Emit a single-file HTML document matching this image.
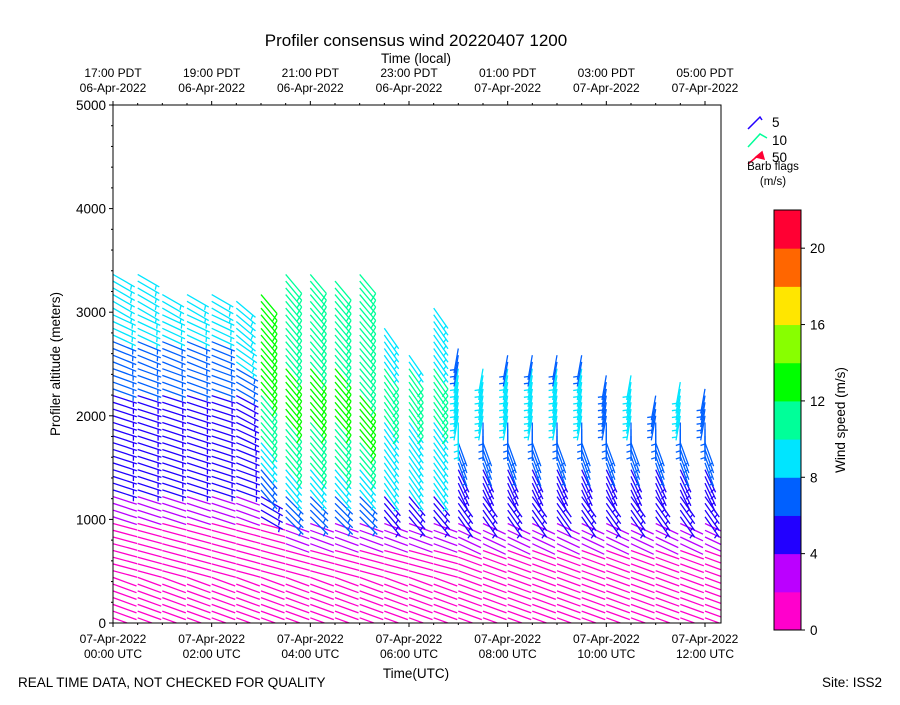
<!DOCTYPE html>
<html><head><meta charset="utf-8"><style>
body{margin:0;background:#fff;font-family:"Liberation Sans","DejaVu Sans",sans-serif}
svg text{font-family:"Liberation Sans","DejaVu Sans",sans-serif;fill:#000}
</style></head><body>
<svg id="chart" width="900" height="700" xmlns="http://www.w3.org/2000/svg">
<text x="416" y="46" font-size="17" text-anchor="middle">Profiler consensus wind 20220407 1200</text>
<text x="416" y="63" font-size="13.5" text-anchor="middle">Time (local)</text>
<text x="416" y="678" font-size="13.5" text-anchor="middle">Time(UTC)</text>
<text x="60" y="364" font-size="13.5" text-anchor="middle" transform="rotate(-90 60 364)">Profiler altitude (meters)</text>
<text x="18" y="687" font-size="13.5">REAL TIME DATA, NOT CHECKED FOR QUALITY</text>
<text x="882" y="687" font-size="13.5" text-anchor="end">Site: ISS2</text>
<g id="barbs"></g>
<g id="axes"></g>
<g id="legend"></g>
<g id="cbar"></g>
</svg>
<script>
const utcTickLabels=["00:00 UTC","02:00 UTC","04:00 UTC","06:00 UTC","08:00 UTC","10:00 UTC","12:00 UTC"];
const localTickLabels=["17:00 PDT","19:00 PDT","21:00 PDT","23:00 PDT","01:00 PDT","03:00 PDT","05:00 PDT"];
const localDates=["06-Apr-2022","06-Apr-2022","06-Apr-2022","06-Apr-2022","07-Apr-2022","07-Apr-2022","07-Apr-2022"];
const altTicks=[0,1000,2000,3000,4000,5000];
const cbarTicks=[0,4,8,12,16,20];
const cbarColors=["#ff00cc","#bb00ff","#2200ff","#0060ff","#00e5ff","#00ff99","#00ff00","#88ff00","#ffe600","#ff6600","#ff0033"];
const colHours=[0,0.5,1,1.5,2,2.5,3,3.5,4,4.5,5,5.5,6,6.5,7,7.5,8,8.5,9,9.5,10,10.5,11,11.5,12];
const colTops=[3400,3400,3200,3200,3200,3150,3200,3400,3400,3350,3400,2900,2600,3100,2650,2500,2600,2600,2600,2600,2400,2400,2250,2350,2300];
const colSpeeds=[
[1,1,1,1,3,5,5,5,5,7,7,9,9,9],[1,1,1,1,3,5,5,5,5,7,7,9,9,9],[1,1,1,1,3,5,5,5,5,7,7,8,9,9],
[1,1,1,1,3,5,5,5,5,6,7,8,9,9],[1,1,1,1,3,5,5,5,5,7,7,9,9,9],[1,1,1,1,3,5,5,5,5,7,9,9,9,9],
[1,1,1,1,5,7,9,10,11,12,13,13,13,13],[1,1,1,3,7,9,11,11,12,12,11,11,10,10],[1,1,1,3,7,9,10,11,12,12,11,10,10,10],
[1,1,1,3,7,9,11,11,12,12,11,11,10,10],[1,1,1,3,7,9,11,12,12,11,11,10,10,10],[1,1,1,3,5,9,9,9,10,10,9,9,9,9],
[1,1,1,3,5,9,9,9,10,10,9,9,9,9],[1,1,1,3,5,9,9,9,10,11,9,9,9,9],[1,1,1,3,5,5,7,8,9,8,7,5,5,5],
[1,1,1,3,5,5,7,7,8,8,7,5,5,5],[1,1,1,3,5,5,7,7,8,8,7,5,5,5],[1,1,1,3,5,5,7,7,8,8,7,5,5,5],
[1,1,1,3,4,5,7,7,8,8,7,5,5,5],[1,1,1,3,5,5,7,7,8,8,7,5,5,5],[1,1,1,3,5,5,6,7,7,7,7,5,5,5],
[1,1,1,3,5,5,6,7,8,8,7,5,5,5],[1,1,1,3,5,5,7,7,7,7,7,5,5,5],[1,1,1,3,5,5,7,7,8,8,9,3,3,3],
[1,1,1,3,5,5,6,7,7,7,9,3,3,3]];
const colDirs=[
[110,110,105,105,108,108,108,108,108,110,112,115,120,120],[110,110,105,105,108,108,108,108,108,110,112,115,120,120],[110,110,105,105,108,108,108,108,108,110,112,115,120,120],
[110,110,105,105,108,108,108,108,108,110,112,115,120,120],[110,110,105,105,108,108,108,108,108,110,112,115,120,120],[110,110,105,105,110,110,112,115,118,120,125,130,130,130],
[110,110,105,105,120,140,140,140,140,140,140,140,140,140],[110,110,105,110,135,140,140,140,140,140,140,140,140,140],[110,110,105,110,135,140,140,140,140,140,140,140,140,140],
[110,110,105,110,135,140,140,140,140,140,140,140,140,140],[110,110,105,110,135,140,140,140,140,140,140,140,140,140],[110,110,105,110,140,145,145,145,145,145,145,145,145,145],
[110,110,105,110,140,145,145,145,145,145,145,145,145,145],[110,110,105,110,140,145,145,145,145,145,145,145,145,145],[110,110,110,115,145,155,160,180,190,190,190,190,190,190],
[110,110,110,115,145,155,160,180,190,190,190,190,190,190],[110,110,110,115,145,155,160,180,190,190,190,190,190,190],[110,110,110,115,145,155,160,180,190,190,190,190,190,190],
[110,110,110,115,145,155,160,180,190,190,190,190,190,190],[110,110,110,115,145,155,160,180,190,190,190,190,190,190],[110,110,110,115,145,155,160,180,190,190,190,190,190,190],
[110,110,110,115,145,155,160,180,190,190,190,190,190,190],[110,110,110,115,145,155,160,180,190,190,190,190,190,190],[110,110,110,115,145,155,160,180,190,190,170,170,170,170],
[110,110,110,115,145,155,160,180,190,190,170,170,170,170]];
const NS="http://www.w3.org/2000/svg";
const PX0=113,PX1=721,PY0=105,PY1=623;
const xS=h=>PX0+h*(705-113)/12;
const yS=a=>PY1-a*(PY1-PY0)/5000;
function mk(tag,attrs,parent){const e=document.createElementNS(NS,tag);for(const k in attrs)e.setAttribute(k,attrs[k]);parent.appendChild(e);return e;}
function colorFor(s){return cbarColors[Math.min(10,Math.max(0,Math.floor(s/2)))];}
function barb(g,x,y,spd,dir,col,L){
  const r=dir*Math.PI/180,ux=Math.sin(r),uy=-Math.cos(r);
  const tx=x+ux*L,ty=y+uy*L;
  let d=`M${x.toFixed(1)},${y.toFixed(1)}L${tx.toFixed(1)},${ty.toFixed(1)}`;
  const px=-uy,py=ux;let n10=Math.floor(spd/10),n5=Math.floor((spd%10)/5);
  let off=0;
  for(let i=0;i<n10;i++){const bx=tx-ux*off,by=ty-uy*off;d+=`M${bx.toFixed(1)},${by.toFixed(1)}l${(px*9+ux*3).toFixed(1)},${(py*9+uy*3).toFixed(1)}`;off+=3.5;}
  if(n5){if(off===0)off=3.5;const bx=tx-ux*off,by=ty-uy*off;d+=`M${bx.toFixed(1)},${by.toFixed(1)}l${(px*4.5+ux*1.5).toFixed(1)},${(py*4.5+uy*1.5).toFixed(1)}`;}
  const p=mk('path',{d:d,stroke:col,'stroke-width':1.3,fill:'none'},g);
  
  
}
const gb=document.getElementById('barbs');
mk('clipPath',{id:'pc'},gb).appendChild(document.createElementNS(NS,'rect'));
const cr=gb.querySelector('rect');cr.setAttribute('x',PX0);cr.setAttribute('y',PY0);cr.setAttribute('width',PX1-PX0);cr.setAttribute('height',PY1-PY0);
const gc=mk('g',{'clip-path':'url(#pc)'},gb);
colHours.forEach((h,k)=>{
  for(let a=50;a<=colTops[k];a+=65){
    const li=Math.min(13,Math.floor(a/250));
    const s=colSpeeds[k][li];
    barb(gc,xS(h),yS(a),s,colDirs[k][li],colorFor(s),25);
  }
});
const ga=document.getElementById('axes');
const fr=mk('rect',{x:PX0,y:PY0,width:PX1-PX0,height:PY1-PY0,fill:'none',stroke:'#000','stroke-width':1},ga);

for(let a=0;a<=5000;a+=200){const maj=a%1000===0;mk('line',{x1:PX0,x2:PX0-(maj?4:2),y1:yS(a),y2:yS(a),stroke:'#000'},ga);}
altTicks.forEach(a=>{const t=mk('text',{x:PX0-7,y:yS(a)+5,'font-size':13.5,'text-anchor':'end'},ga);t.textContent=a;
});
for(let h=0;h<=12.33;h+=0.5){const maj=h%2===0;mk('line',{x1:xS(h),x2:xS(h),y1:PY1,y2:PY1+(maj?4:2),stroke:'#000'},ga);mk('line',{x1:xS(h),x2:xS(h),y1:PY0,y2:PY0-(maj?4:2),stroke:'#000'},ga);}
utcTickLabels.forEach((l,i)=>{const x=xS(i*2);
 const t1=mk('text',{x:x,y:643,'font-size':12,'text-anchor':'middle'},ga);t1.textContent='07-Apr-2022';
 
 const t2=mk('text',{x:x,y:658,'font-size':12,'text-anchor':'middle'},ga);t2.textContent=l;
 
 const t3=mk('text',{x:x,y:77,'font-size':12,'text-anchor':'middle'},ga);t3.textContent=localTickLabels[i];
 
 const t4=mk('text',{x:x,y:92,'font-size':12,'text-anchor':'middle'},ga);t4.textContent=localDates[i];
 });
const gl=document.getElementById('legend');
[[5,'#2200ff',122],[10,'#00ff99',140],[50,'#ff0033',157]].forEach(([v,c,y])=>{
 const g=mk('g',{},gl);
 if(v===50){mk('path',{d:`M748,${y+7}L760,${y-3}M756,${y}L762,${y-5}L764,${y+2}Z`,stroke:c,fill:c,'stroke-width':1.5},g);}
 else if(v===10){mk('path',{d:`M748,${y+7}L760,${y-6}L767,${y-2}`,stroke:c,fill:'none','stroke-width':1.5},g);}
 else{mk('path',{d:`M748,${y+7}L760,${y-5}L762,${y-2}`,stroke:c,fill:'none','stroke-width':1.5},g);}
 const t=mk('text',{x:772,y:y+5,'font-size':13.5},g);t.textContent=v;});
const lt1=mk('text',{x:773,y:170,'font-size':11.5,'text-anchor':'middle'},gl);lt1.textContent='Barb flags';
const lt2=mk('text',{x:773,y:185,'font-size':11.5,'text-anchor':'middle'},gl);lt2.textContent='(m/s)';
const gcb=document.getElementById('cbar');
const CY0=210,CY1=630,cy=v=>CY1-v*(CY1-CY0)/22;
cbarColors.forEach((c,i)=>{const r=mk('rect',{x:774,y:cy(i*2+2),width:27,height:cy(0)-cy(2)+0.5,fill:c},gcb);
 });
mk('rect',{x:774,y:CY0,width:27,height:CY1-CY0,fill:'none',stroke:'#000'},gcb);
cbarTicks.forEach(v=>{mk('line',{x1:801,x2:805,y1:cy(v),y2:cy(v),stroke:'#000'},gcb);
 const t=mk('text',{x:810,y:cy(v)+5,'font-size':13.5},gcb);t.textContent=v;
 });
const ct=mk('text',{x:845,y:420,'font-size':13.5,'text-anchor':'middle',transform:'rotate(-90 845 420)'},gcb);ct.textContent='Wind speed (m/s)';

</script>
</body></html>
